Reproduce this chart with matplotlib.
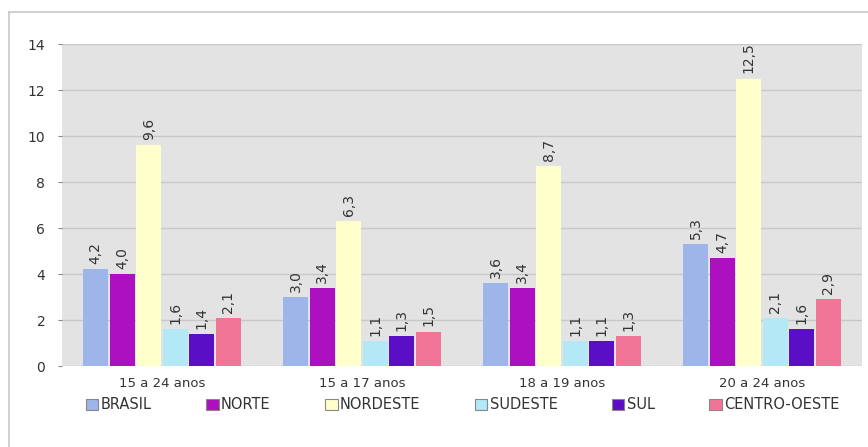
import matplotlib
matplotlib.use('Agg')
from matplotlib import pyplot as plt
from matplotlib.lines import Line2D
import numpy as np

plt.rcParams['font.family'] = ['DejaVu Sans']

# chart data
groups = ['15 a 24 anos', '15 a 17 anos', '18 a 19 anos', '20 a 24 anos']
regions = ['BRASIL', 'NORTE', 'NORDESTE', 'SUDESTE', 'SUL', 'CENTRO-OESTE']
brasil = [4.2, 3.0, 3.6, 5.3]
norte = [4.0, 3.4, 3.4, 4.7]
nordeste = [9.6, 6.3, 8.7, 12.5]
sudeste = [1.6, 1.1, 1.1, 2.1]
sul = [1.4, 1.3, 1.1, 1.6]
centro_oeste = [2.1, 1.5, 1.3, 2.9]
y_ticks = [0, 2, 4, 6, 8, 10, 12, 14]

series = [brasil, norte, nordeste, sudeste, sul, centro_oeste]
colors = ['#9db5e8', '#ad10bf', '#ffffcc', '#b3e8f7', '#5a0ec6', '#f07596']


def main():
    fig = plt.figure(figsize=(8.68, 4.47), dpi=100)
    # partial frame around the chart, like the source image
    fig.add_artist(Line2D([9 / 868, 9 / 868], [0, 1 - 12 / 447],
                          color='#c8c8c8', lw=1.2))
    fig.add_artist(Line2D([9 / 868, 1], [1 - 12 / 447, 1 - 12 / 447],
                          color='#c8c8c8', lw=1.2))

    ax = fig.add_axes([62 / 868, 1 - 366 / 447, 800 / 868, 322 / 447])
    ax.set_facecolor('#e3e3e3')
    for side in ['top', 'right', 'left', 'bottom']:
        ax.spines[side].set_visible(False)

    x = np.arange(len(groups))
    step = 0.1325
    width = 0.125
    handles = []
    for i, (vals, col) in enumerate(zip(series, colors)):
        offs = (i - 2.5) * step
        bars = ax.bar(x + offs, vals, width, color=col, zorder=3)
        handles.append(bars)
        for xi, v in zip(x, vals):
            ax.text(xi + offs, v + 0.22, ('%.1f' % v).replace('.', ','),
                    rotation=90, ha='center', va='bottom', fontsize=10,
                    color='#333333', zorder=4)

    ax.set_xlim(-0.5, 3.5)
    ax.set_ylim(0, 14)
    ax.set_yticks(y_ticks)
    ax.set_yticklabels([str(t) for t in y_ticks], fontsize=10, color='#333333')
    ax.yaxis.grid(True, color='#c8c8c8', lw=1, zorder=0)
    ax.tick_params(axis='y', length=3, color='#888888', pad=9)
    ax.set_xticks(x)
    ax.set_xticklabels(groups, fontsize=9.5, color='#333333')
    ax.tick_params(axis='x', length=0, pad=8)

    leg = fig.legend(handles, regions, loc='center', ncol=6,
                     bbox_to_anchor=(0.533, 0.094), frameon=False,
                     fontsize=10.5, columnspacing=3.75, handlelength=0.85,
                     handleheight=0.85, handletextpad=0.15,
                     labelcolor='#333333')
    for patch in leg.get_patches():
        patch.set_edgecolor('#888888')
        patch.set_linewidth(0.8)

    fig.savefig('out.png', dpi=100)


if __name__ == '__main__':
    main()
